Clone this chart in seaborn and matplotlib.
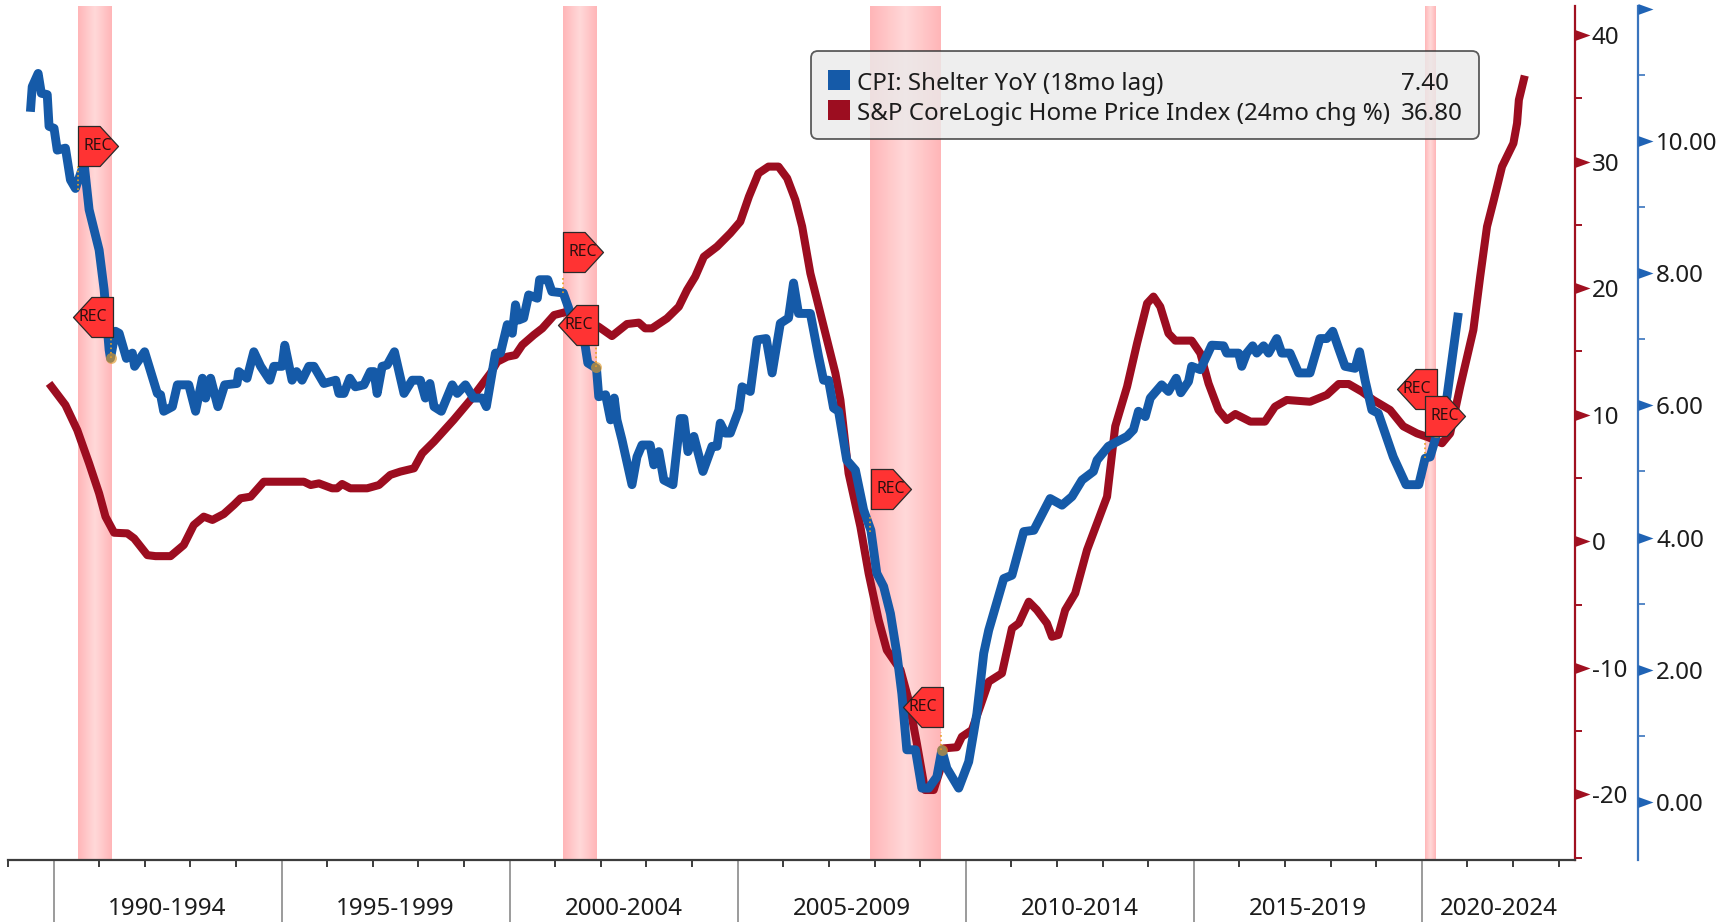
import numpy as np
import pandas as pd
import matplotlib
matplotlib.use("Agg")
import matplotlib.pyplot as plt
import seaborn as sns
from matplotlib.colors import LinearSegmentedColormap
from matplotlib.patches import Patch
from matplotlib.path import Path
from matplotlib.transforms import blended_transform_factory

blue_years = [1989.49,1989.53,1989.66,1989.73,1989.86,1989.90,1990.01,1990.08,1990.26,1990.37,1990.48,1990.67,1990.78,1991.00,1991.11,1991.22,1991.25,1991.36,1991.44,1991.60,1991.73,1991.78,1992.00,1992.17,1992.28,1992.35,1992.42,1992.61,1992.72,1992.97,1993.12,1993.27,1993.34,1993.45,1993.61,1993.76,1994.03,1994.07,1994.25,1994.40,1994.55,1994.75,1994.84,1995.02,1995.08,1995.24,1995.34,1995.46,1995.61,1995.72,1995.94,1996.20,1996.27,1996.38,1996.51,1996.63,1996.82,1996.96,1997.04,1997.11,1997.22,1997.33,1997.49,1997.70,1997.88,1998.06,1998.17,1998.27,1998.36,1998.52,1998.76,1998.87,1999.05,1999.23,1999.42,1999.51,1999.71,1999.82,1999.97,2000.08,2000.15,
 2000.22,2000.33,2000.44,2000.63,2000.68,2000.86,2000.95,2001.20,2001.36,2001.65,2001.74,2001.93,2001.98,2002.13,2002.24,2002.32,2002.38,2002.49,2002.71,2002.82,2002.93,2003.11,2003.19,2003.30,2003.41,2003.61,2003.77,2003.85,2003.94,2004.07,2004.27,2004.47,2004.58,2004.65,2004.76,2004.87,2005.06,2005.13,2005.31,2005.46,2005.66,2005.79,2005.97,2006.15,2006.26,2006.37,2006.63,2006.81,2006.92,2007.03,
 2007.14,2007.25,2007.43,2007.62,2007.80,2007.96,2008.09,2008.24,2008.39,2008.53,2008.64,2008.75,2008.94,2009.08,2009.23,2009.41,2009.52,2009.63,2009.89,2010.11,2010.29,2010.44,2010.55,2010.88,2011.06,2011.32,2011.54,2011.90,2012.16,2012.38,2012.60,2012.85,2012.93,2013.18,
 2013.59,2013.73,2013.84,2013.99,2014.10,2014.35,2014.50,2014.67,2014.77,2014.94,2015.01,2015.20,2015.45,2015.71,2015.78,2016.04,2016.11,2016.22,2016.35,2016.44,2016.59,2016.70,2016.88,2016.99,2017.17,2017.36,2017.61,2017.83,2017.98,2018.11,2018.24,2018.38,2018.60,2018.70,2018.82,2018.97,2019.11,2019.44,2019.72,2020.00,2020.14,2020.25,2020.36,2020.62,2020.87]
blue_vals = [10.44,10.82,11.02,10.72,10.70,10.22,10.19,9.86,9.89,9.41,9.28,9.66,8.96,8.35,7.75,6.84,6.71,7.12,7.09,6.71,6.79,6.59,6.81,6.43,6.18,6.16,5.91,5.98,6.31,6.31,5.91,6.41,6.11,6.41,5.98,6.31,6.33,6.51,6.41,6.81,6.59,6.38,6.59,6.59,6.91,6.38,6.51,6.38,6.59,6.59,6.33,6.38,6.18,6.18,6.41,6.28,6.31,6.51,6.51,6.18,6.59,6.61,6.81,6.18,6.38,6.38,6.11,6.33,5.98,5.91,6.31,6.18,6.31,6.11,6.11,5.98,6.79,6.79,7.22,7.09,7.52,
 7.29,7.32,7.67,7.62,7.90,7.90,7.72,7.70,7.39,7.04,6.64,6.56,6.13,6.16,5.78,6.11,5.78,5.48,4.80,5.22,5.40,5.40,5.10,5.30,4.87,4.80,5.80,5.80,5.30,5.53,5.00,5.38,5.38,5.73,5.58,5.58,5.93,6.28,6.21,6.99,7.01,6.49,7.24,7.32,7.85,7.39,7.39,6.74,6.38,6.38,
 5.96,5.91,5.17,5.02,4.42,4.11,3.46,3.26,2.85,2.25,1.64,0.79,0.79,0.21,0.21,0.38,0.79,0.51,0.21,0.61,1.34,2.25,2.60,3.38,3.43,4.09,4.11,4.59,4.49,4.62,4.87,5.00,5.17,5.38,
 5.53,5.63,5.91,5.83,6.11,6.31,6.21,6.41,6.19,6.36,6.59,6.54,6.91,6.90,6.79,6.79,6.59,6.79,6.90,6.79,6.90,6.79,7.01,6.79,6.79,6.49,6.49,7.01,7.01,7.12,6.86,6.59,6.56,6.81,6.38,5.93,5.88,5.22,4.80,4.80,5.20,5.22,5.48,6.13,7.40]

red_years = [1989.90,1990.26,1990.52,1990.78,1991.00,1991.14,1991.33,1991.62,1991.77,1992.06,1992.24,1992.57,1992.86,1993.08,1993.30,1993.49,1993.74,1993.96,1994.11,1994.33,1994.62,1995.50,1995.65,1995.83,1996.12,1996.23,1996.34,1996.52,1996.89,1997.15,1997.40,1997.62,1997.92,1998.10,1998.36,1998.79,1999.16,1999.60,
 1999.75,1999.97,2000.15,2000.30,2000.55,2000.74,2001.00,2001.28,2001.58,2001.98,2002.27,2002.60,2002.86,2003.00,2003.15,2003.48,2003.74,2003.92,2004.10,2004.29,2004.58,2004.87,2005.09,2005.28,2005.49,2005.71,2005.93,2006.12,2006.30,2006.45,2006.63,2006.85,2007.18,
 2007.29,2007.47,2007.73,2007.91,2008.13,2008.31,2008.61,2008.79,2008.97,2009.15,2009.34,2009.48,2009.56,2009.85,2009.96,2010.18,2010.36,2010.55,2010.84,2011.06,2011.21,2011.43,2011.61,2011.83,2011.94,2012.08,2012.23,2012.45,2012.71,2013.04,
 2013.15,2013.33,2013.59,2013.81,2014.03,2014.17,2014.32,2014.50,2014.65,2015.01,2015.20,2015.38,2015.60,2015.78,2015.97,2016.30,2016.62,2016.84,2017.10,2017.61,2017.98,2018.24,2018.46,2018.75,2019.00,2019.37,2019.66,2019.96,2020.21,2020.51,2020.69,2020.91,2021.20,2021.35,2021.50,2021.65,2021.83,2022.08,2022.16,2022.20,2022.33]
red_vals = [12.48,10.77,8.79,6.16,3.79,1.95,0.68,0.63,0.23,-1.09,-1.17,-1.17,-0.29,1.29,1.95,1.69,2.16,2.87,3.40,3.53,4.71,4.71,4.45,4.58,4.19,4.19,4.53,4.19,4.19,4.45,5.25,5.51,5.77,6.95,7.88,9.59,11.17,13.28,
 14.19,14.59,14.72,15.52,16.30,16.83,17.88,18.14,17.75,16.95,16.22,17.17,17.28,16.83,16.83,17.62,18.54,19.86,20.92,22.49,23.29,24.34,25.26,27.24,29.08,29.61,29.61,28.69,26.98,24.87,21.18,18.02,13.28,
 11.17,5.38,1.15,-2.52,-6.21,-8.59,-10.16,-12.54,-15.96,-19.65,-19.65,-18.07,-16.36,-16.27,-15.44,-14.91,-13.07,-11.09,-10.43,-6.88,-6.48,-4.77,-5.43,-6.48,-7.54,-7.40,-5.43,-4.11,-0.68,2.47,
 3.53,9.09,12.22,15.65,18.80,19.34,18.54,16.43,15.86,15.86,14.86,12.48,10.38,9.59,10.06,9.46,9.46,10.64,11.17,11.03,11.57,12.43,12.43,11.83,11.17,10.38,9.09,8.53,8.22,7.75,8.53,12.22,16.70,20.92,24.87,26.98,29.61,31.45,33.03,34.88,36.80]

blue_label = "CPI: Shelter YoY (18mo lag)"
red_label = "S&P CoreLogic Home Price Index (24mo chg %)"
last_values = ["7.40", "36.80"]

rec_start = [1990.53, 2001.19, 2007.95, 2020.14]
rec_end = [1991.27, 2001.92, 2009.51, 2020.36]

flag_right_x = [1990.97, 2001.63, 2008.40, 2020.57]
flag_right_y = [9.93, 8.32, 4.74, 5.84]
flag_left_x = [1990.86, 2001.53, 2009.10, 2019.96]
flag_left_y = [7.33, 7.22, 1.43, 6.24]

end_dot_x = [1991.27, 2001.93, 2009.52, 2020.38]
end_dot_y = [6.71, 6.58, 0.79, 5.60]

stem_x = [1990.53, 2001.19, 2007.95, 2020.14, 1991.27, 2001.92, 2009.51, 2020.36]
stem_lo = [9.26, 7.70, 4.08, 5.20, 6.72, 6.58, 0.79, 5.61]
stem_hi = [9.62, 7.94, 4.34, 5.48, 7.02, 6.88, 1.06, 5.73]

period_labels = ["1990-1994", "1995-1999", "2000-2004", "2005-2009", "2010-2014", "2015-2019", "2020-2024"]
period_centers = [1992.5, 1997.5, 2002.5, 2007.5, 2012.5, 2017.5, 2021.68]
period_edges = [1990, 1995, 2000, 2005, 2010, 2015, 2020]
year_ticks = list(range(1989, 2024))

red_major = [-20, -10, 0, 10, 20, 30, 40]
red_minor = [-25, -15, -5, 5, 15, 25, 35]
blue_major = [0, 2, 4, 6, 8, 10, 12]
blue_minor = [1, 3, 5, 7, 9, 11]
blue_tick_labels = ["0.00", "2.00", "4.00", "6.00", "8.00", "10.00", ""]

BLUE = "#155AA8"
RED = "#9C0D20"
BLUE_AX = "#3A74BD"
RED_AX = "#A01020"
TXT = "#1c1c1c"


def tx(years):
    return 1990 + (np.asarray(years, dtype=float) - 1990) * 0.9978


sns.set_theme(style="white")
plt.rcParams["font.family"] = ["Noto Sans", "DejaVu Sans"]
FS = 17.4

W, H = 1735, 922
fig = plt.figure(figsize=(W / 100, H / 100), dpi=100, facecolor="white")
ax = fig.add_axes([8 / W, (H - 860) / H, (1575 - 8) / W, (860 - 6) / H])
ax2 = ax.twinx()
ax.set_facecolor("white")
ax2.patch.set_visible(False)

XLIM = (1989.014, 2023.36)
RLIM = (-25.18, 42.30)
BLIM = (-0.877, 12.04)

cmap = LinearSegmentedColormap.from_list("band", ["#FFB6B8", "#FFD9D9", "#FFB6B8"])
grad = np.linspace(0, 1, 64).reshape(1, -1)
for s, e in zip(tx(rec_start), tx(rec_end)):
    ax.imshow(grad, extent=[s, e, RLIM[0], RLIM[1]], aspect="auto", cmap=cmap,
              interpolation="bilinear", zorder=0.5)

sns.lineplot(x=tx(red_years), y=red_vals, ax=ax, color=RED, linewidth=5.8, estimator=None,
             sort=False, errorbar=None, zorder=3)
sns.lineplot(x=tx(blue_years), y=blue_vals, ax=ax2, color=BLUE, linewidth=6.4, estimator=None,
             sort=False, errorbar=None, zorder=3)
for a in (ax, ax2):
    for ln in a.get_lines():
        ln.set_solid_capstyle("butt")
        ln.set_solid_joinstyle("round")

ax.set_xlim(*XLIM)
ax.set_ylim(*RLIM)
ax2.set_ylim(*BLIM)
ax.set_xlabel("")
ax.set_ylabel("")
ax2.set_ylabel("")

for s in ("top", "left"):
    ax.spines[s].set_visible(False)
ax.spines["bottom"].set_visible(True)
ax.spines["bottom"].set_color("#3c3c3c")
ax.spines["bottom"].set_linewidth(1.6)
for s in ("top", "left", "bottom"):
    ax2.spines[s].set_visible(False)
ax2.spines["right"].set_visible(True)
ax2.spines["right"].set_color(BLUE_AX)
ax2.spines["right"].set_linewidth(1.6)
ax2.spines["right"].set_position(("outward", 45.4))
ax.spines["right"].set_visible(True)
ax.spines["right"].set_color(RED_AX)
ax.spines["right"].set_linewidth(1.6)

ax.set_xticks(period_edges)
ax.set_xticks([y for y in year_ticks if y not in period_edges], minor=True)
ax.tick_params(axis="x", which="major", length=44.6, width=1.2, color="#8a8a8a", labelbottom=False, bottom=True)
ax.tick_params(axis="x", which="minor", length=5, width=1.4, color="#3c3c3c", bottom=True)
trans_x = blended_transform_factory(ax.transData, ax.transAxes)
for lab, c in zip(period_labels, period_centers):
    ax.text(c, -0.0575, lab, transform=trans_x, ha="center", va="center", fontsize=FS, color=TXT, clip_on=False)

ax.yaxis.tick_right()
ax.set_yticks(red_major)
ax.set_yticklabels([str(v) for v in red_major], fontsize=FS, color=TXT)
ax.set_yticks(red_minor, minor=True)
ax.tick_params(axis="y", which="major", length=0, pad=12, right=True, left=False)
ax.tick_params(axis="y", which="minor", length=5, width=1.4, color=RED_AX, right=True, left=False)

ax2.set_yticks(blue_major)
ax2.set_yticklabels(blue_tick_labels, fontsize=FS, color=TXT)
ax2.set_yticks(blue_minor, minor=True)
ax2.tick_params(axis="y", which="major", length=0, pad=13, right=True)
ax2.tick_params(axis="y", which="minor", length=5, width=1.2, color=BLUE_AX, right=True)

flag_tick = Path([(0, -0.36), (1, 0), (0, 0.36), (0, -0.36)], closed=True)
ax.plot([1.0] * len(red_major), red_major, transform=blended_transform_factory(ax.transAxes, ax.transData),
        linestyle="none", marker=flag_tick, markersize=21.6, markerfacecolor=RED_AX, markeredgewidth=0,
        clip_on=False, zorder=5)
off = blended_transform_factory(
    ax2.transAxes + matplotlib.transforms.ScaledTranslation(45.4 / 72, 0, fig.dpi_scale_trans), ax2.transData)
ax2.plot([1.0] * len(blue_major), blue_major, transform=off, linestyle="none", marker=flag_tick,
         markersize=21.6, markerfacecolor="#1F63B5", markeredgewidth=0, clip_on=False, zorder=5)

hex_right = Path([(-1, -1), (0.08, -1), (1, 0), (0.08, 1), (-1, 1), (-1, -1)], closed=True)
hex_left = Path([(1, -1), (-0.08, -1), (-1, 0), (-0.08, 1), (1, 1), (1, -1)], closed=True)
size_pts = 40 * 0.72
ax2.vlines(tx(stem_x), stem_lo, stem_hi, colors="#E8A020", linestyles=":", linewidth=1.2, zorder=4)
ax2.scatter(tx(end_dot_x), end_dot_y, s=62, color="#E09A28", alpha=0.65, linewidths=0, zorder=6)
ax2.scatter(tx(flag_left_x), flag_left_y, marker=hex_left, s=size_pts ** 2, color="#FF3333",
            edgecolors="#2a2a2a", linewidths=0.9, zorder=7)
ax2.scatter(tx(flag_right_x), flag_right_y, marker=hex_right, s=size_pts ** 2, color="#FF3333",
            edgecolors="#2a2a2a", linewidths=0.9, zorder=7)
for x, y in list(zip(tx(flag_left_x), flag_left_y)) + list(zip(tx(flag_right_x), flag_right_y)):
    ax2.text(x, y, "REC", ha="center", va="center", fontsize=11.3, color="#2a1010", zorder=8)

handles = [Patch(facecolor=BLUE, edgecolor="none"), Patch(facecolor=RED, edgecolor="none"),
           Patch(alpha=0), Patch(alpha=0)]
labels = [blue_label, red_label] + last_values
leg = ax2.legend(handles, labels, ncol=2, loc="upper left",
                 bbox_to_anchor=(811 / W, 1 - 51 / H), bbox_transform=fig.transFigure,
                 borderaxespad=0, borderpad=0.7, handlelength=0.91, handleheight=0.91,
                 handletextpad=0.29, labelspacing=0.22, columnspacing=-0.76,
                 fontsize=FS, labelcolor=TXT, frameon=True, fancybox=True)
for t in leg.get_texts():
    t.set_y(-4)
for h in leg.legend_handles:
    h.set_y(h.get_y() - 1.5)
frame = leg.get_frame()
frame.set_boxstyle("round", pad=0, rounding_size=0.3)
frame.set_facecolor((234 / 255, 234 / 255, 234 / 255, 0.7))
frame.set_edgecolor("#333333")
frame.set_linewidth(1.3)
leg.set_zorder(20)

fig.savefig("out.png", dpi=100, facecolor="white")
